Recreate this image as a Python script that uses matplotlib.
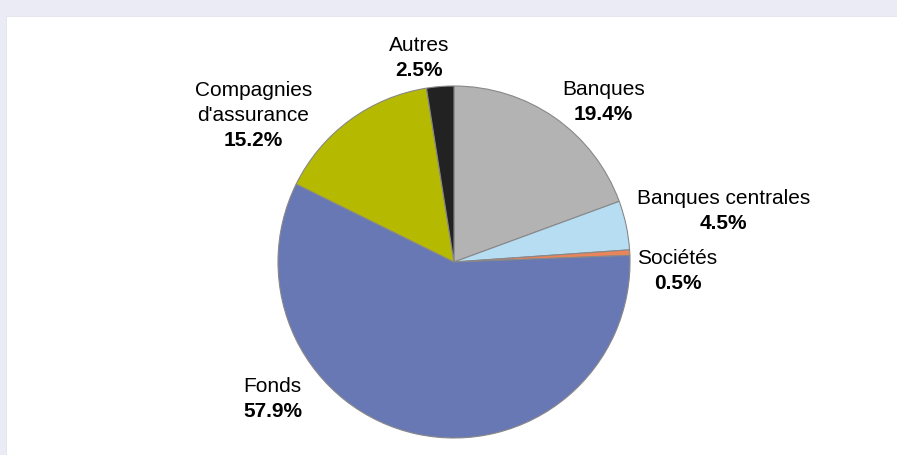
import matplotlib.pyplot as plt
from matplotlib.patches import Rectangle

# répartition des détenteurs (en %)
categories = ['Banques', 'Banques centrales', 'Sociétés', 'Fonds',
              "Compagnies\nd'assurance", 'Autres']
shares = [19.4, 4.5, 0.5, 57.9, 15.2, 2.5]
colors = ['#B3B3B3', '#B7DDF3', '#E9845B', '#6878B4', '#B5BA00', '#222222']

# position du pourcentage de chaque étiquette, en rayons par rapport au centre
label_pos = [(0.85, 0.84), (1.53, 0.22), (1.27, -0.12),
             (-1.03, -0.85), (-1.14, 0.69), (-0.20, 1.09)]

W, H = 897, 455
fig = plt.figure(figsize=(W / 100, H / 100), dpi=100)
fig.patch.set_facecolor('#EBEBF5')

ax = fig.add_axes([0, 0, 1, 1])
ax.set_xlim(0, W)
ax.set_ylim(0, H)
ax.set_aspect('equal')
ax.axis('off')

# panneau blanc
ax.add_patch(Rectangle((6, 0), W - 6, H - 16, facecolor='white',
                       edgecolor='#E2E2EC', linewidth=0.6, zorder=0))

cx, cy, R = 454, 455 - 262, 176
ax.pie(shares, colors=colors, startangle=90, counterclock=False,
       center=(cx, cy), radius=R, frame=True,
       wedgeprops=dict(edgecolor='#888888', linewidth=0.8))
ax.set_xlim(0, W)
ax.set_ylim(0, H)
ax.axis('off')

font = ['Liberation Sans', 'DejaVu Sans']
line_h = 25
for name, val, (dx, dy) in zip(categories, shares, label_pos):
    x = cx + dx * R
    y = cy + dy * R
    ax.text(x, y, f'{val:.1f}%', ha='center', va='center', fontsize=15,
            fontweight='bold', family=font)
    lines = name.split('\n')
    for i, line in enumerate(reversed(lines)):
        ax.text(x, y + (i + 1) * line_h, line, ha='center', va='center',
                fontsize=15, family=font)

fig.savefig('out.png', dpi=100)
